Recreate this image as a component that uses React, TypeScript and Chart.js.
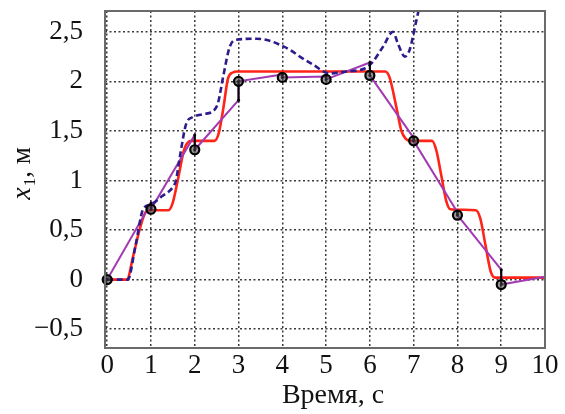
import React, { useEffect, useRef } from "react";
import { Chart, registerables } from "chart.js";

Chart.register(...registerables);

// x-axis ticks (time, s) and y-axis ticks (x1, m)
const xTicks = [0, 1, 2, 3, 4, 5, 6, 7, 8, 9, 10];
const yTicks = [-0.5, 0, 0.5, 1, 1.5, 2, 2.5];
const yTickLabels = ["−0,5", "0", "0,5", "1", "1,5", "2", "2,5"];

// red solid trajectory
const redT = [0, 0.45, 0.6, 0.75, 0.88, 1.0, 1.4, 1.5, 1.62, 1.75, 1.86, 1.95, 2.45, 2.55, 2.65, 2.76, 2.87, 2.97, 6.35, 6.45, 6.6, 6.72, 6.82, 6.92, 7.42, 7.52, 7.64, 7.74, 7.84, 8.42, 8.52, 8.64, 8.76, 8.86, 10];
const redX = [0, 0, 0.25, 0.52, 0.68, 0.7, 0.7, 0.78, 1.02, 1.3, 1.39, 1.4, 1.4, 1.48, 1.72, 2.03, 2.09, 2.1, 2.1, 2.04, 1.75, 1.5, 1.42, 1.4, 1.4, 1.3, 1.03, 0.8, 0.71, 0.7, 0.62, 0.35, 0.08, 0.02, 0.02];

// blue dashed trajectory
const blueT = [0, 0.47, 0.65, 0.82, 1.0, 1.25, 1.51, 1.57, 1.66, 1.81, 1.96, 2.2, 2.42, 2.53, 2.65, 2.8, 2.95, 3.41, 3.71, 3.94, 4.17, 4.4, 4.7, 5.08, 5.47, 5.88, 6.07, 6.3, 6.53, 6.64, 6.8, 6.91, 7.03, 7.1, 7.2];
const blueX = [0, 0, 0.35, 0.71, 0.76, 0.84, 0.94, 1.0, 1.24, 1.58, 1.64, 1.67, 1.7, 1.78, 2.05, 2.35, 2.42, 2.43, 2.41, 2.37, 2.32, 2.25, 2.17, 2.08, 2.1, 2.13, 2.2, 2.35, 2.5, 2.38, 2.25, 2.32, 2.55, 2.69, 2.9];

// measurement instants, corrected estimates (circles) and predicted values (error bar ends)
const measT = [0, 1, 2, 3, 4, 5, 6, 7, 8, 9];
const measX = [0, 0.71, 1.31, 2.0, 2.04, 2.02, 2.06, 1.4, 0.65, -0.05];
const predX = [0, 0.77, 1.46, 1.81, 2.07, 2.05, 2.19, 1.43, 0.68, 0.1];
const endT = 10;
const endX = 0.03;

export default function App() {
  const ref = useRef<HTMLCanvasElement>(null);

  useEffect(() => {
    document.body.style.margin = "0";
    if (!ref.current) return;

    const purple: { x: number; y: number }[] = [];
    for (let i = 0; i < measT.length; i++) {
      purple.push({ x: measT[i], y: measX[i] });
      if (i + 1 < measT.length) purple.push({ x: measT[i + 1], y: predX[i + 1] });
      else purple.push({ x: endT, y: endX });
    }
    const bars: { x: number; y: number | null }[] = [];
    for (let i = 0; i < measT.length; i++) {
      bars.push({ x: measT[i], y: measX[i] });
      bars.push({ x: measT[i], y: predX[i] });
      bars.push({ x: measT[i], y: null });
    }

    const serif = "'Liberation Serif', 'DejaVu Serif', serif";

    const framePlugin = {
      id: "frameTitles",
      afterDraw(chart: any) {
        const { ctx, chartArea } = chart;
        const { left, right, top, bottom } = chartArea;
        ctx.save();
        ctx.strokeStyle = "#6a6a6a";
        ctx.lineWidth = 2;
        ctx.strokeRect(left, top, right - left, bottom - top);
        // x title
        ctx.fillStyle = "#111";
        ctx.font = `28px ${serif}`;
        ctx.textAlign = "center";
        ctx.textBaseline = "middle";
        ctx.fillText("Время, с", (left + right) / 2 + 8, 396);
        // y title with italic x and subscript 1
        const cy = (top + bottom) / 2 - 6;
        ctx.translate(30, cy);
        ctx.rotate(-Math.PI / 2);
        ctx.textAlign = "left";
        ctx.textBaseline = "alphabetic";
        const f1 = `italic 28px ${serif}`;
        const f2 = `17px ${serif}`;
        const f3 = `27px ${serif}`;
        ctx.font = f1;
        const w1 = ctx.measureText("x").width;
        ctx.font = f2;
        const w2 = ctx.measureText("1").width;
        ctx.font = f3;
        const w3 = ctx.measureText(", м").width;
        let x0 = -(w1 + w2 + 1 + w3) / 2;
        ctx.font = f1;
        ctx.fillText("x", x0, 0);
        x0 += w1 + 1;
        ctx.font = f2;
        ctx.fillText("1", x0, 5);
        x0 += w2;
        ctx.font = f3;
        ctx.fillText(", м", x0, 0);
        ctx.restore();
      },
    };

    const chart = new Chart(ref.current, {
      type: "line",
      data: {
        datasets: [
          {
            label: "markers",
            data: measT.map((t, i) => ({ x: t, y: measX[i] })),
            showLine: false,
            pointStyle: "circle",
            pointRadius: 4.5,
            pointBorderWidth: 2.2,
            pointBorderColor: "#000",
            pointBackgroundColor: "rgba(70,70,70,0.55)",
            clip: 6,
          },
          {
            label: "bars",
            data: bars,
            borderColor: "#000",
            borderWidth: 2,
            pointRadius: 1.5,
            pointBackgroundColor: "#000",
            pointBorderWidth: 0,
            spanGaps: false,
          },
          {
            label: "blue",
            data: blueT.map((t, i) => ({ x: t, y: blueX[i] })),
            borderColor: "#2e1c8c",
            borderWidth: 2.6,
            borderDash: [6, 3.5],
            pointRadius: 0,
            cubicInterpolationMode: "monotone",
            clip: 0,
          },
          {
            label: "purple",
            data: purple,
            borderColor: "#a23ab4",
            borderWidth: 2,
            pointRadius: 0,
            clip: 0,
          },
          {
            label: "red",
            data: redT.map((t, i) => ({ x: t, y: redX[i] })),
            borderColor: "#ff2418",
            borderWidth: 2.6,
            pointRadius: 0,
            cubicInterpolationMode: "monotone",
            clip: 0,
          },
        ] as any,
      },
      options: {
        animation: false,
        responsive: false,
        devicePixelRatio: 1,
        layout: { padding: { top: 11, right: 20, left: 0, bottom: 0 } },
        plugins: { legend: { display: false }, tooltip: { enabled: false } },
        scales: {
          x: {
            type: "linear",
            min: -0.05,
            max: 10,
            afterBuildTicks: (s: any) => {
              s.ticks = xTicks.map((v) => ({ value: v }));
            },
            afterFit: (s: any) => {
              s.height = 66;
              s.paddingLeft = 0;
              s.paddingRight = 0;
            },
            ticks: {
              color: "#111",
              font: { family: serif, size: 27 },
              padding: 2,
              maxRotation: 0,
              autoSkip: false,
              callback: (v: any) => String(v),
            },
            grid: { color: "#3a3a3a", lineWidth: 1.5, drawTicks: false },
            border: { display: false, dash: [2, 2.5] },
          },
          y: {
            type: "linear",
            min: -0.69,
            max: 2.71,
            afterBuildTicks: (s: any) => {
              s.ticks = yTicks.map((v) => ({ value: v }));
            },
            afterFit: (s: any) => {
              s.width = 105;
              s.paddingTop = 0;
              s.paddingBottom = 0;
            },
            ticks: {
              color: "#111",
              font: { family: serif, size: 27 },
              padding: 22,
              autoSkip: false,
              callback: (v: any) => {
                const i = yTicks.indexOf(Number(v));
                return i >= 0 ? yTickLabels[i] : "";
              },
            },
            grid: { color: "#3a3a3a", lineWidth: 1.5, drawTicks: false },
            border: { display: false, dash: [2, 2.5] },
          },
        },
      },
      plugins: [framePlugin],
    });
    return () => chart.destroy();
  }, []);

  return <canvas ref={ref} width={565} height={414} style={{ display: "block" }} />;
}
